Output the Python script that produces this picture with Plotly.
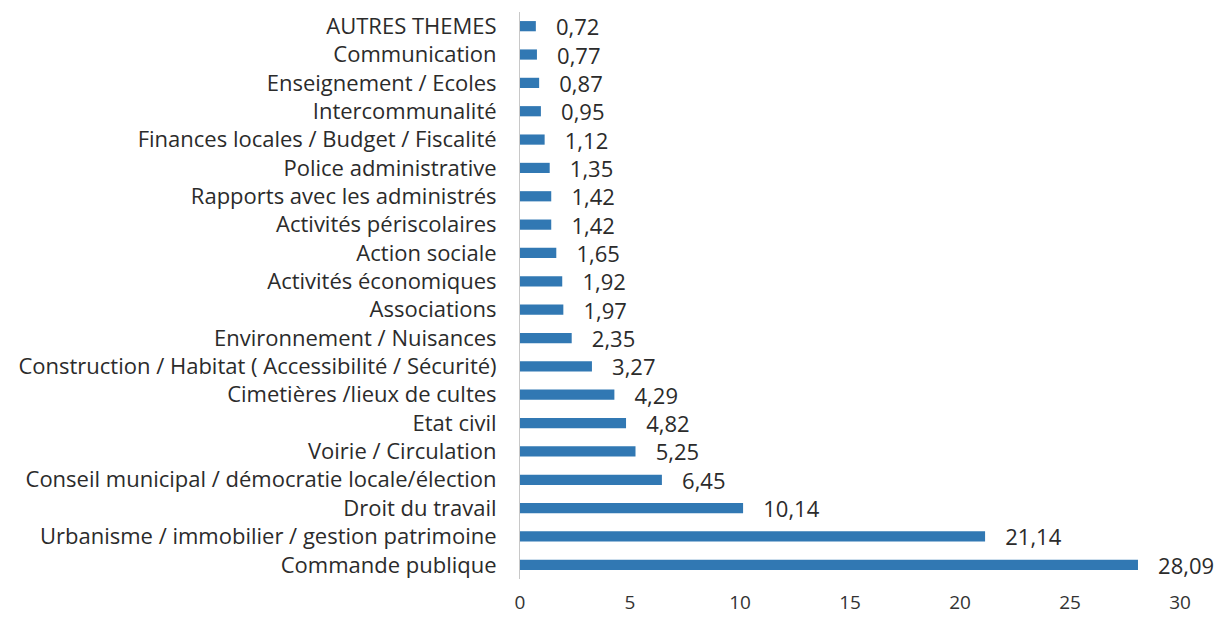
import plotly.graph_objects as go

# categories from bottom to top
themes = [
    "Commande publique",
    "Urbanisme / immobilier / gestion patrimoine",
    "Droit du travail",
    "Conseil municipal / démocratie locale/élection",
    "Voirie / Circulation",
    "Etat civil",
    "Cimetières /lieux de cultes",
    "Construction / Habitat ( Accessibilité / Sécurité)",
    "Environnement / Nuisances",
    "Associations",
    "Activités économiques",
    "Action sociale",
    "Activités périscolaires",
    "Rapports avec les administrés",
    "Police administrative",
    "Finances locales / Budget / Fiscalité",
    "Intercommunalité",
    "Enseignement / Ecoles",
    "Communication",
    "AUTRES THEMES",
]
values = [28.09, 21.14, 10.14, 6.45, 5.25, 4.82, 4.29, 3.27, 2.35, 1.97,
          1.92, 1.65, 1.42, 1.42, 1.35, 1.12, 0.95, 0.87, 0.77, 0.72]
x_ticks = [0, 5, 10, 15, 20, 25, 30]

bars = go.Bar(x=values, y=themes, orientation='h',
              marker=dict(color='#3178b3', line=dict(width=0)),
              width=0.36,
              texttemplate='\u00a0\u00a0\u00a0%{x:.2f}', textposition='outside',
              constraintext='none',
              textfont=dict(family='Open Sans', size=22, color='#2b2b2b'),
              cliponaxis=False)

fig = go.Figure(bars)
# the page adds an 8px body margin, so the figure is a little smaller than the window
fig.update_layout(width=1218, height=609, plot_bgcolor='#ffffff', paper_bgcolor='#ffffff',
                  separators=', ', showlegend=False,
                  margin=dict(l=512, r=46, t=4, b=38),
                  font=dict(family='Open Sans', size=20, color='#2b2b2b'))
fig.update_xaxes(range=[0, 30], tickvals=x_ticks, showgrid=False, zeroline=False,
                 automargin=False,
                 ticks='outside', ticklen=6, tickcolor='#ffffff',
                 tickfont=dict(size=19, color='#333333'))
fig.update_yaxes(showline=True, linecolor='#c8c8c8', linewidth=1, automargin=False,
                 ticks='outside', ticklen=18, tickcolor='#ffffff',
                 tickfont=dict(size=22, color='#2b2b2b'))

fig.write_html("out.html")
